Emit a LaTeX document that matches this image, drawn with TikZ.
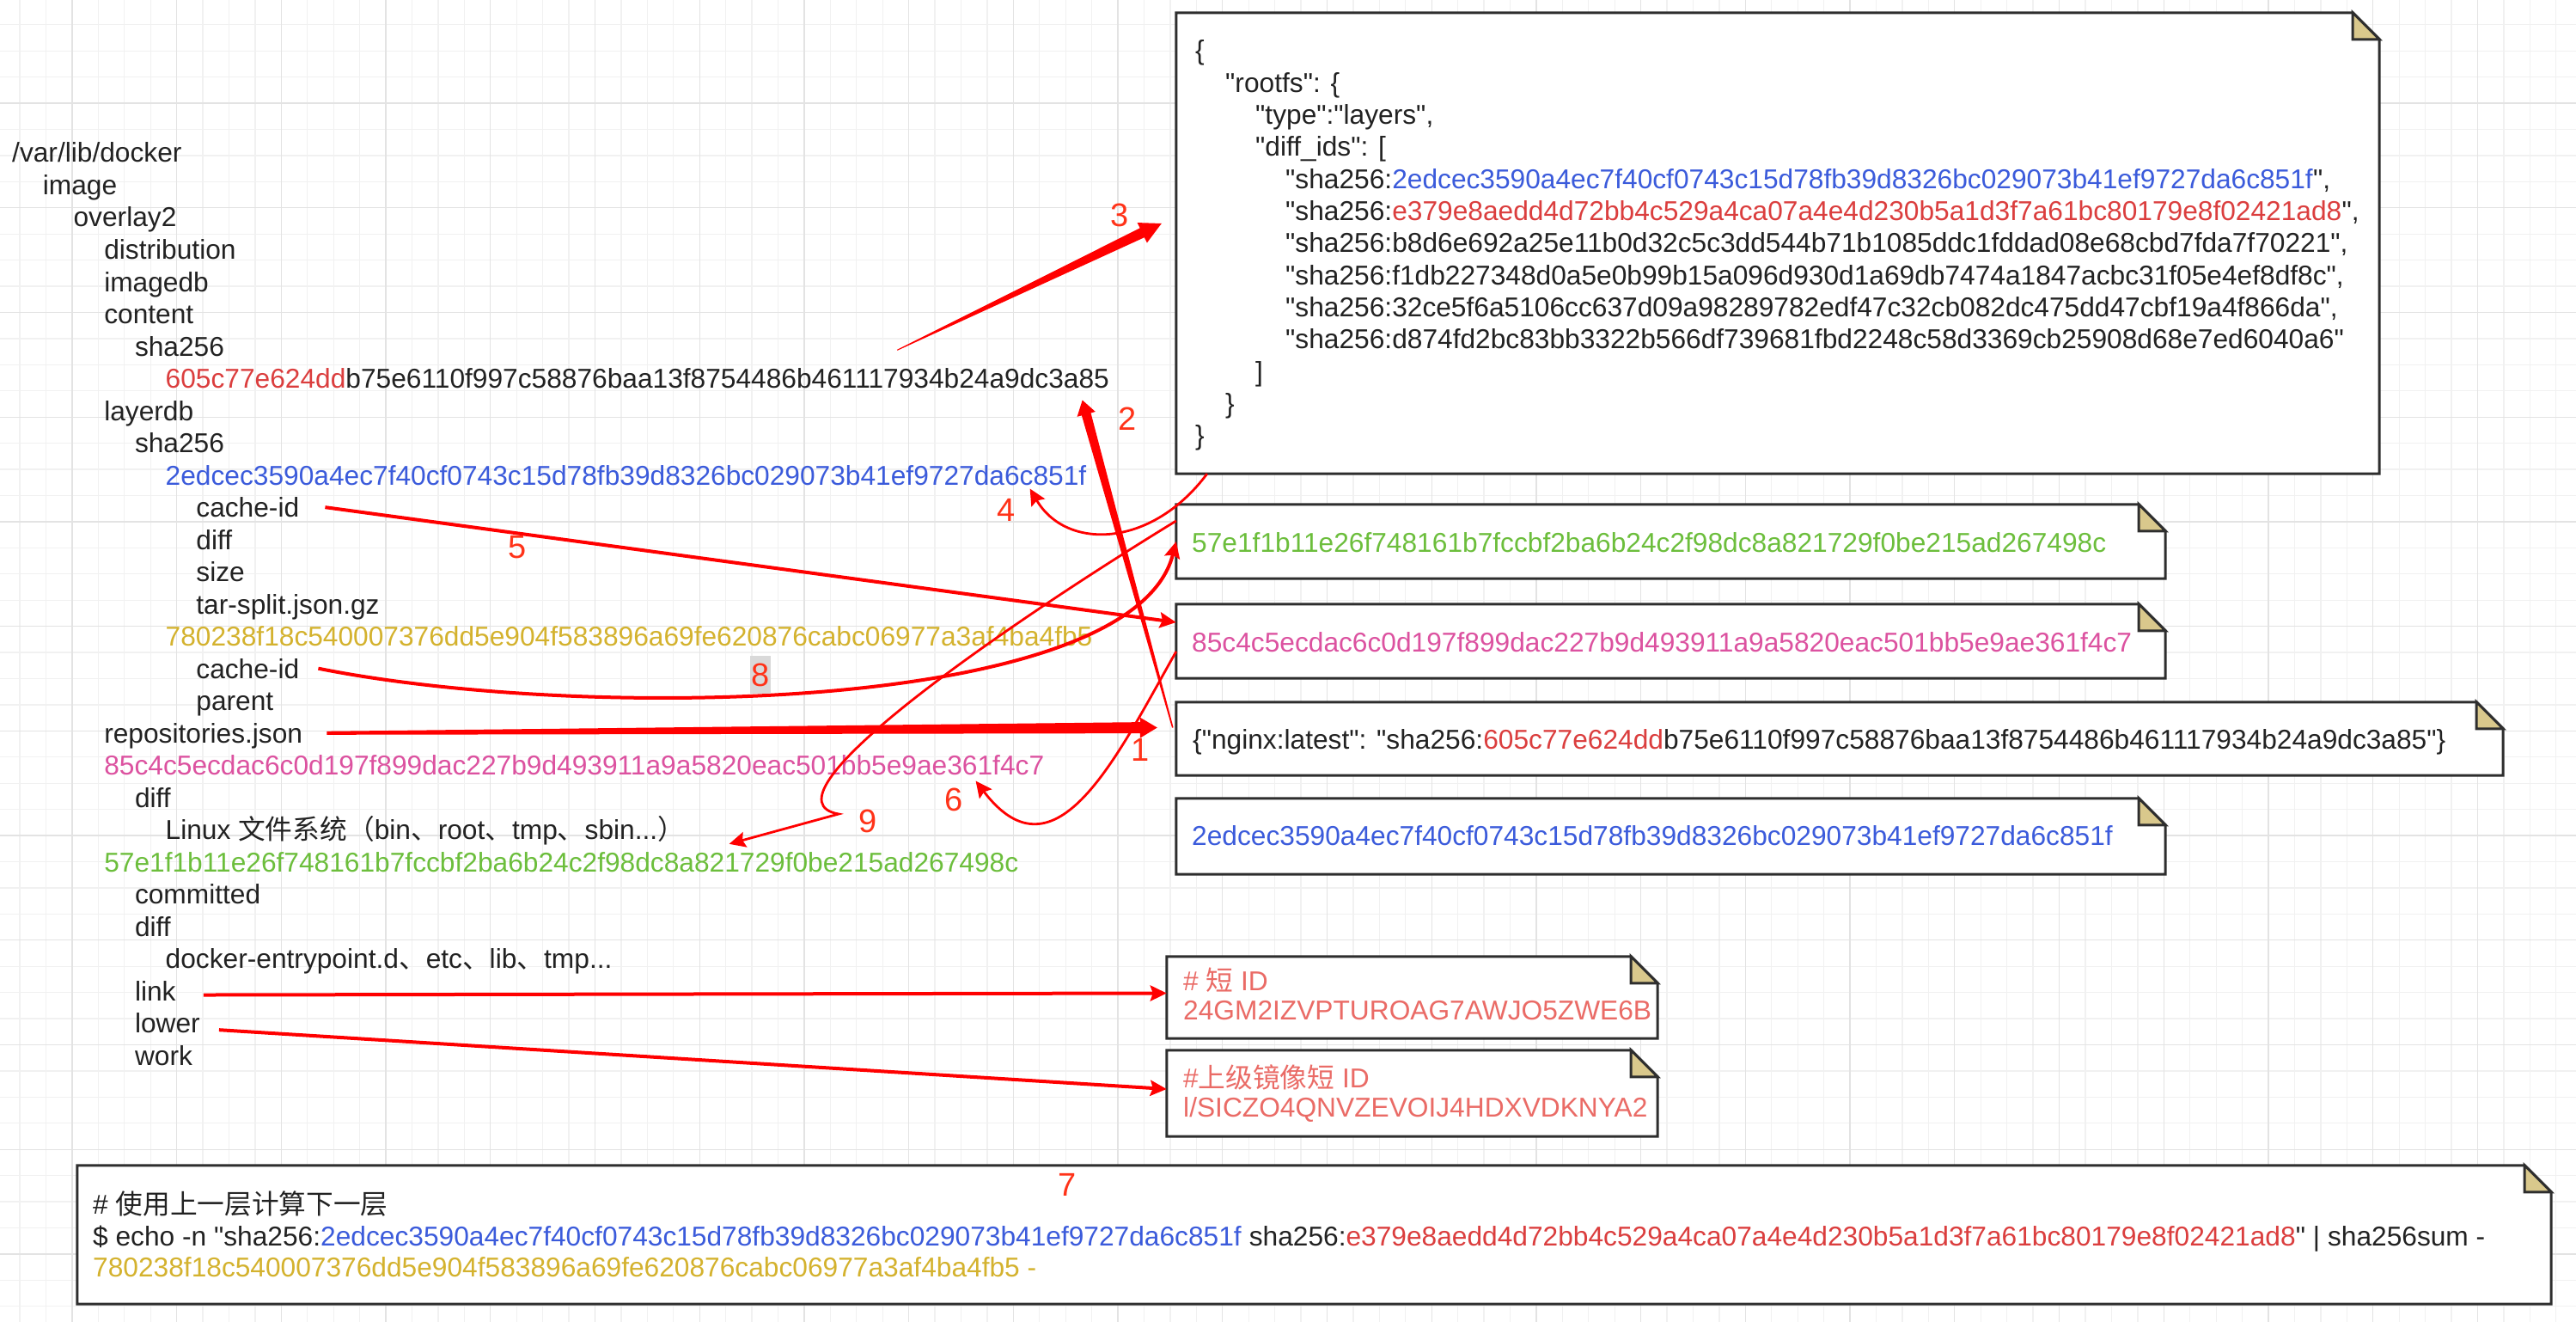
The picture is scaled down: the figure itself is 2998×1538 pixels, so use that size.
\documentclass[tikz,border=0pt]{standalone}
\usepackage{fontspec}
\setmainfont{Liberation Sans}[Ligatures=TeXOff]
\newfontfamily\cjk{Noto Sans CJK SC}
\usetikzlibrary{arrows.meta,calc}
\definecolor{tcol}{HTML}{222222}
\definecolor{hred}{HTML}{DB3E3E}
\definecolor{hblue}{HTML}{3B5BDB}
\definecolor{hgold}{HTML}{D4B22E}
\definecolor{hpink}{HTML}{DC52A0}
\definecolor{hgreen}{HTML}{6CBE3C}
\definecolor{idsalmon}{HTML}{EA6B66}
\definecolor{arrowred}{HTML}{FF0000}
\definecolor{numred}{HTML}{FF3319}
\definecolor{gridminc}{HTML}{F1F1F1}
\definecolor{gridmajc}{HTML}{E3E3E3}
\definecolor{foldc}{HTML}{D9C88C}
\definecolor{boxline}{HTML}{2E2E2E}
\definecolor{labelbg}{HTML}{D9D9D9}

\newcommand\drawnote[1]{%
  \draw[noteline] (#1.north west) -- ([xshift=-31pt]#1.north east) -- ([yshift=-31pt]#1.north east) -- (#1.south east) -- (#1.south west) -- cycle;
  \draw[noteline,fill=foldc] ([xshift=-31pt]#1.north east) -- ([xshift=-31pt,yshift=-31pt]#1.north east) -- ([yshift=-31pt]#1.north east) -- cycle;}

\newcommand\taperarrow[7]{%
  \path ($(#2)!#5!(#1)$) coordinate (#7);
  \fill[arrowred] ($(#1)!#3!90:(#2)$) -- ($(#7)!#4!90:(#2)$) -- ($(#7)!#6!90:(#2)$) -- (#2) -- ($(#7)!#6!-90:(#2)$) -- ($(#7)!#4!-90:(#2)$) -- ($(#1)!#3!-90:(#2)$) -- cycle;}

\begin{document}
\begin{tikzpicture}[x=1pt,y=-1pt,
  treetxt/.style={anchor=base west,inner sep=0pt,text=tcol,font=\fontsize{31.7}{38}\selectfont},
  numlbl/.style={inner sep=0pt,text=numred,font=\fontsize{38}{40}\selectfont},
  notebg/.style={draw=none,inner sep=0pt},
  noteline/.style={draw=boxline,line width=3pt,fill=white,line join=miter},
  redline/.style={draw=arrowred,line width=4pt},
  thinred/.style={draw=arrowred,line width=2.8pt},
  tipa/.style={-{Stealth[length=19pt,width=18pt,inset=3pt]}},
  gridl/.style={line width=1.3pt}]

\useasboundingbox (0,0) rectangle (2998,1538);
\fill[white] (0,0) rectangle (2998,1538);

% grid
\foreach \k in {0,...,97} \draw[gridminc,gridl] ({23+30.43*\k},0) -- ({23+30.43*\k},1538);
\foreach \k in {1,...,50} \draw[gridminc,gridl] (0,{-1.7+30.43*\k}) -- (2998,{-1.7+30.43*\k});
\foreach \k in {2,6,...,94} \draw[gridmajc,gridl] ({23+30.43*\k},0) -- ({23+30.43*\k},1538);
\foreach \k in {4,8,...,48} \draw[gridmajc,gridl] (0,{-1.7+30.43*\k}) -- (2998,{-1.7+30.43*\k});

% note boxes
\node[notebg,minimum width=1400pt,minimum height=536pt] (json) at (2069,283) {};
\node[notebg,minimum width=1151pt,minimum height=86pt] (b57) at (1944.5,630) {};
\node[notebg,minimum width=1151pt,minimum height=86pt] (b85) at (1944.5,746) {};
\node[notebg,minimum width=1544pt,minimum height=85pt] (bng) at (2141,859.5) {};
\node[notebg,minimum width=1151pt,minimum height=88pt] (b2e) at (1944.5,973) {};
\node[notebg,minimum width=571pt,minimum height=95pt] (bshort) at (1643.5,1160.5) {};
\node[notebg,minimum width=571pt,minimum height=100pt] (bparent) at (1643.5,1272) {};
\node[notebg,minimum width=2879pt,minimum height=161pt] (bcmd) at (1529.5,1436.5) {};
\drawnote{json}
\drawnote{b57}
\drawnote{b85}
\drawnote{bng}
\drawnote{b2e}
\drawnote{bshort}
\drawnote{bparent}
\drawnote{bcmd}

% tree
\node[treetxt] (t0) at (14,189) {/var/lib/docker};
\node[treetxt] (t1) at (49.7,226.5) {image};
\node[treetxt] (t2) at (85.4,264) {overlay2};
\node[treetxt] (t3) at (121.1,301.5) {distribution};
\node[treetxt] (t4) at (121.1,339) {imagedb};
\node[treetxt] (t5) at (121.1,376.5) {content};
\node[treetxt] (t6) at (156.8,414) {sha256};
\node[treetxt] (h605) at (192.5,451.5) {\textcolor{hred}{605c77e624dd}b75e6110f997c58876baa13f8754486b461117934b24a9dc3a85};
\node[treetxt] (t8) at (121.1,489) {layerdb};
\node[treetxt] (t9) at (156.8,526.5) {sha256};
\node[treetxt,text=hblue] (h2e) at (192.5,564) {2edcec3590a4ec7f40cf0743c15d78fb39d8326bc029073b41ef9727da6c851f};
\node[treetxt] (cid1) at (228.2,601.5) {cache-id};
\node[treetxt] (t12) at (228.2,639) {diff};
\node[treetxt] (t13) at (228.2,676.5) {size};
\node[treetxt] (t14) at (228.2,714) {tar-split.json.gz};
\node[treetxt,text=hgold] (h780) at (192.5,751.5) {780238f18c540007376dd5e904f583896a69fe620876cabc06977a3af4ba4fb5};
\node[treetxt] (cid2) at (228.2,789) {cache-id};
\node[treetxt] (t17) at (228.2,826.5) {parent};
\node[treetxt] (repo) at (121.1,864) {repositories.json};
\node[treetxt,text=hpink] (h85) at (121.1,901.5) {85c4c5ecdac6c0d197f899dac227b9d493911a9a5820eac501bb5e9ae361f4c7};
\node[treetxt] (t20) at (156.8,939) {diff};
\node[treetxt] (t21) at (192.5,976.5) {Linux {\cjk 文件系统（}bin{\cjk 、}root{\cjk 、}tmp{\cjk 、}sbin...{\cjk ）}};
\node[treetxt,text=hgreen] (h57) at (121.1,1014) {57e1f1b11e26f748161b7fccbf2ba6b24c2f98dc8a821729f0be215ad267498c};
\node[treetxt] (t23) at (156.8,1051.5) {committed};
\node[treetxt] (t24) at (156.8,1089) {diff};
\node[treetxt] (t25) at (192.5,1126.5) {docker-entrypoint.d{\cjk 、}etc{\cjk 、}lib{\cjk 、}tmp...};
\node[treetxt] (link) at (156.8,1164) {link};
\node[treetxt] (lower) at (156.8,1201.5) {lower};
\node[treetxt] (work) at (156.8,1239) {work};

% json text
\node[treetxt] (j0) at (1391,70) {\{};
\node[treetxt] (j1) at (1426,107.3) {"rootfs": \{};
\node[treetxt] (j2) at (1461,144.6) {"type":"layers",};
\node[treetxt] (j3) at (1461,181.9) {"diff\_ids": [};
\node[treetxt] (j4) at (1496,219.2) {"sha256:\textcolor{hblue}{2edcec3590a4ec7f40cf0743c15d78fb39d8326bc029073b41ef9727da6c851f}",};
\node[treetxt] (j5) at (1496,256.5) {"sha256:\textcolor{hred}{e379e8aedd4d72bb4c529a4ca07a4e4d230b5a1d3f7a61bc80179e8f02421ad8}",};
\node[treetxt] (j6) at (1496,293.8) {"sha256:b8d6e692a25e11b0d32c5c3dd544b71b1085ddc1fddad08e68cbd7fda7f70221",};
\node[treetxt] (j7) at (1496,331.1) {"sha256:f1db227348d0a5e0b99b15a096d930d1a69db7474a1847acbc31f05e4ef8df8c",};
\node[treetxt] (j8) at (1496,368.4) {"sha256:32ce5f6a5106cc637d09a98289782edf47c32cb082dc475dd47cbf19a4f866da",};
\node[treetxt] (j9) at (1496,405.7) {"sha256:d874fd2bc83bb3322b566df739681fbd2248c58d3369cb25908d68e7ed6040a6"};
\node[treetxt] (j10) at (1461,443) {]};
\node[treetxt] (j11) at (1426,480.3) {\}};
\node[treetxt] (j12) at (1391,517.6) {\}};

% box texts
\node[treetxt,text=hgreen] (x57) at (1387,642) {57e1f1b11e26f748161b7fccbf2ba6b24c2f98dc8a821729f0be215ad267498c};
\node[treetxt,text=hpink] (x85) at (1387,758) {85c4c5ecdac6c0d197f899dac227b9d493911a9a5820eac501bb5e9ae361f4c7};
\node[treetxt] (xng) at (1388,871) {\{"nginx:latest": "sha256:\textcolor{hred}{605c77e624dd}b75e6110f997c58876baa13f8754486b461117934b24a9dc3a85"\}};
\node[treetxt,text=hblue] (x2e) at (1387,983) {2edcec3590a4ec7f40cf0743c15d78fb39d8326bc029073b41ef9727da6c851f};
\node[treetxt,text=idsalmon] (s1) at (1377,1152) {\# {\cjk 短} ID};
\node[treetxt,text=idsalmon] (s2) at (1377,1186) {24GM2IZVPTUROAG7AWJO5ZWE6B};
\node[treetxt,text=idsalmon] (p1) at (1377,1265) {\#{\cjk 上级镜像短} ID};
\node[treetxt,text=idsalmon] (p2) at (1377,1299) {l/SICZO4QNVZEVOIJ4HDXVDKNYA2};
\node[treetxt] (c1) at (108,1412) {\# {\cjk 使用上一层计算下一层}};
\node[treetxt] (c2) at (108,1449) {\$ echo -n "sha256:\textcolor{hblue}{2edcec3590a4ec7f40cf0743c15d78fb39d8326bc029073b41ef9727da6c851f} sha256:\textcolor{hred}{e379e8aedd4d72bb4c529a4ca07a4e4d230b5a1d3f7a61bc80179e8f02421ad8}" | sha256sum -};
\node[treetxt,text=hgold] (c3) at (108,1485) {780238f18c540007376dd5e904f583896a69fe620876cabc06977a3af4ba4fb5 -};

% arrow 1
\coordinate (a1s) at ([xshift=28pt,yshift=3pt]repo.east);
\coordinate (a1e) at ([xshift=-22pt,yshift=13pt]bng.west);
\taperarrow{a1s}{a1e}{2pt}{6.5pt}{20pt}{12pt}{a1h}
% arrow 2
\coordinate (a2s) at ([xshift=-4pt,yshift=13pt]bng.west);
\coordinate (a2e) at ([xshift=-31.5pt,yshift=-13.5pt]h605.south east);
\taperarrow{a2s}{a2e}{0.8pt}{5.5pt}{17pt}{11pt}{a2h}
% arrow 3
\coordinate (a3s) at ([xshift=-247pt,yshift=21pt]h605.north east);
\coordinate (a3e) at ([xshift=-17pt,yshift=23pt]json.west);
\taperarrow{a3s}{a3e}{0.5pt}{6pt}{25pt}{13pt}{a3h}
% arrow 4
\coordinate (a4s) at ([xshift=36pt]json.south west);
\coordinate (a4e) at ([xshift=-66pt,yshift=-4pt]h2e.south east);
\draw[thinred,tipa] (a4s) .. controls +(-65,87) and +(42,72) .. (a4e);
% arrow 5
\draw[redline,tipa] ([xshift=30pt]cid1.east) -- ([yshift=22pt]b85.west);
% arrow 6
\coordinate (a6s) at ([yshift=-12pt]b85.west);
\coordinate (a6e) at ([xshift=-80pt,yshift=-6.5pt]h85.south east);
\draw[thinred,tipa] (a6s) .. controls +(-69,122) and +(93,122) .. (a6e);
% arrow 8
\coordinate (a8s) at ([xshift=22pt]cid2.east);
\draw[redline,tipa] (a8s) .. controls +(310,62) and +(-50,200) .. (b57.west);
% arrow 9
\coordinate (a9s) at ([yshift=24pt]b57.west);
\coordinate (a9k) at (976,947);
\coordinate (a9e) at ([xshift=-337pt,yshift=9pt]h57.north east);
\draw[thinred,tipa] (a9s) .. controls +(-219,134) and +(-96,-17) .. (a9k) -- (a9e);
% link / lower
\draw[redline,tipa] ([xshift=32pt,yshift=-5pt]link.east) -- ([yshift=5pt]bshort.west);
\draw[redline,tipa] ([xshift=22pt,yshift=-8pt]lower.east) -- ([yshift=5pt]bparent.west);

% number labels
\node[numlbl] (n1) at (1327,872) {1};
\node[numlbl] (n2) at (1312,487) {2};
\node[numlbl] (n3) at (1303,250) {3};
\node[numlbl] (n4) at (1171,593) {4};
\node[numlbl] (n5) at (602,637) {5};
\node[numlbl] (n6) at (1110,930) {6};
\node[numlbl] (n7) at (1242,1378) {7};
\node[numlbl,fill=labelbg,minimum height=44pt,inner xsep=1pt] (n8) at (885,785) {8};
\node[numlbl] (n9) at (1010,955) {9};
\end{tikzpicture}
\end{document}
